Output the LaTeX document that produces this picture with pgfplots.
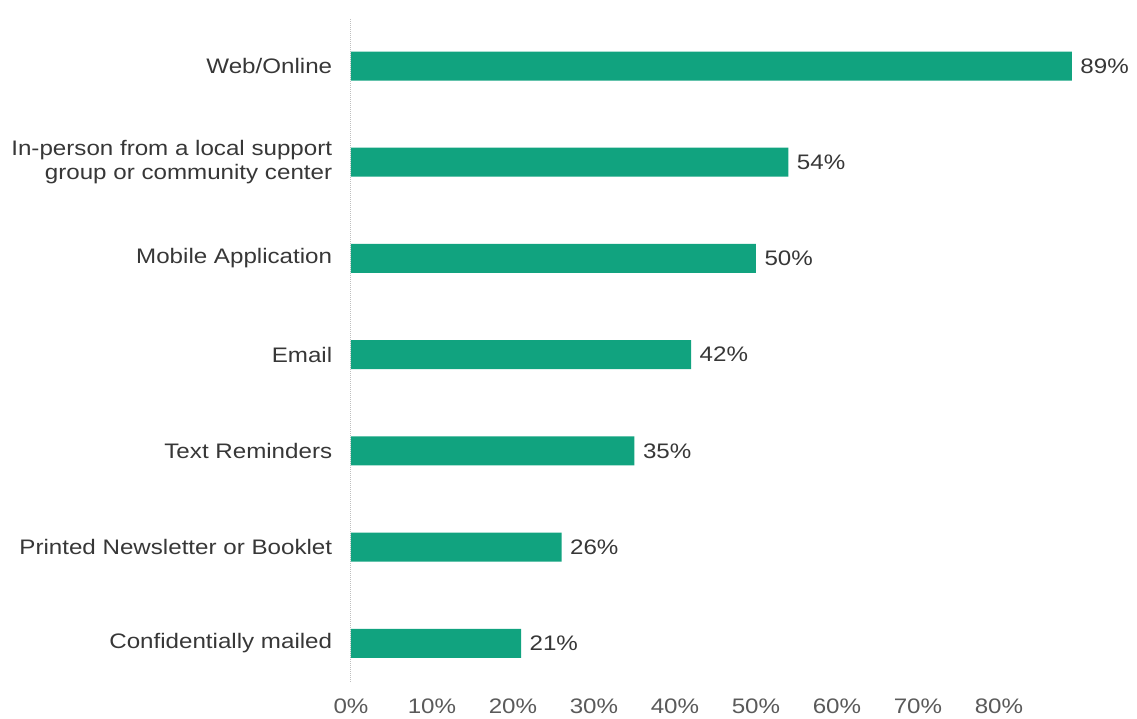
\documentclass[border=0pt]{standalone}
\usepackage{pgfplots}
\pgfplotsset{compat=1.18}
\usepackage{fontspec}
\setmainfont{Liberation Sans}[FakeStretch=1.15]
\definecolor{barc}{RGB}{17,163,127}
\definecolor{lab}{RGB}{55,55,55}
\definecolor{tick}{RGB}{90,90,90}
\begin{document}
\begin{tikzpicture}
\begin{axis}[
  scale only axis,
  width=729pt, height=664pt,
  xmin=0, xmax=90, ymin=-0.4, ymax=6.5,
  clip=false,
  xbar, bar width=29pt,
  font=\fontsize{21}{24}\selectfont,
  /pgf/number format/assume math mode=true,
  axis line style={draw=none},
  tick style={draw=none},
  xtick={0,10,...,80},
  xticklabel={\pgfmathprintnumber{\tick}\%},
  xticklabel style={text=tick, anchor=north, yshift=-13pt},
  ytick={0,...,6},
  yticklabels={Confidentially mailed, Printed Newsletter or Booklet, Text Reminders, Email, Mobile Application, {In-person from a local support\\group or community center}, Web/Online},
  yticklabel style={text=lab, align=right, anchor=east, xshift=-11pt},
  nodes near coords={\pgfmathprintnumber{\pgfplotspointmeta}\%},
  nodes near coords style={text=lab, anchor=west, xshift=5pt},
]
\draw[densely dotted, black!25, line width=1pt] (axis cs:0,-0.4) -- (axis cs:0,6.5);
\addplot[fill=barc, draw=none] coordinates {(21,0) (26,1) (35,2) (42,3) (50,4) (54,5) (89,6)};
\path (axis cs:-43.33,-0.785) rectangle (axis cs:97.04,6.686);
\end{axis}
\end{tikzpicture}
\end{document}
